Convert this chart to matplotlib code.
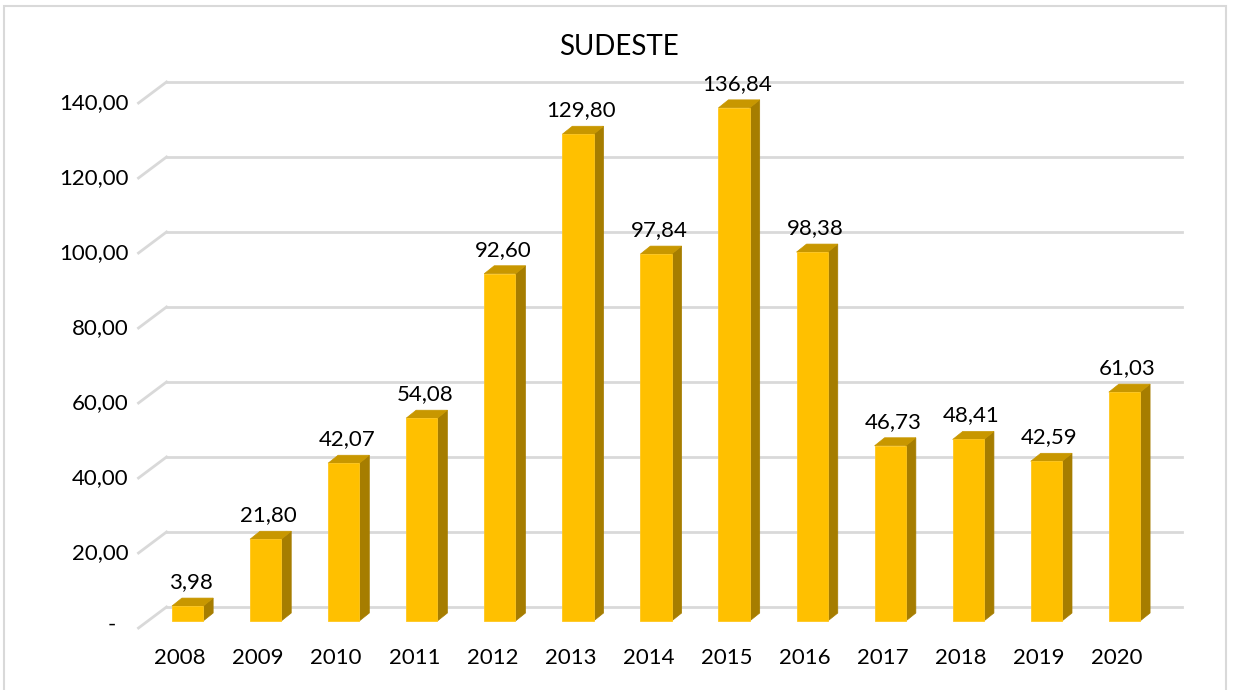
import matplotlib
matplotlib.use("Agg")
import matplotlib.pyplot as plt
from matplotlib.transforms import ScaledTranslation
from matplotlib.patches import Polygon, Rectangle
from matplotlib.lines import Line2D

years = ["2008", "2009", "2010", "2011", "2012", "2013", "2014",
         "2015", "2016", "2017", "2018", "2019", "2020"]
values = [3.98, 21.80, 42.07, 54.08, 92.60, 129.80, 97.84,
          136.84, 98.38, 46.73, 48.41, 42.59, 61.03]
ytick_values = [0, 20, 40, 60, 80, 100, 120, 140]
ytick_labels = ["-", "20,00", "40,00", "60,00", "80,00", "100,00", "120,00", "140,00"]
title = "SUDESTE"

FONT = ["Lato", "DejaVu Sans"]
plt.rcParams["font.family"] = FONT
FS = 16

W, H, DPI = 1235, 690, 100
fig = plt.figure(figsize=(W / DPI, H / DPI), dpi=DPI)

# axes in pixel layout (front plane of bars)
left_px, right_px = 148.5, 1163.5
bottom_px = 621          # from top
ymax = 150
top_px = bottom_px - 3.75 * ymax
ax = fig.add_axes([left_px / W, (H - bottom_px) / H,
                   (right_px - left_px) / W, (bottom_px - top_px) / H])
ax.set_xlim(-0.5, len(years) - 0.5)
ax.set_ylim(0, ymax)
ax.axis("off")


def off(dx, dy):
    return ax.transData + ScaledTranslation(dx / DPI, dy / DPI, fig.dpi_scale_trans)


grid_c = "#d9d9d9"
# back wall gridlines + side diagonals
BX, BY = 18, 14
FX, FY = -10, -7
x0, x1 = -0.5, len(years) - 0.5
for v in ytick_values:
    ax.add_line(Line2D([x0, x1], [v, v], transform=off(BX, BY), color=grid_c,
                       lw=2, clip_on=False, zorder=1))
    p_front = off(FX, FY).transform((x0, v))
    p_back = off(BX, BY).transform((x0, v))
    fig.add_artist(Line2D([p_front[0] / fig.bbox.width, p_back[0] / fig.bbox.width],
                          [p_front[1] / fig.bbox.height, p_back[1] / fig.bbox.height],
                          transform=fig.transFigure, color=grid_c, lw=2, zorder=1))

# bars with 3D effect
bw = 0.40
dx, dy = 10, 8
front_c = "#FFC000"
top_c = "#C89700"
side_c = "#A67D00"
bars = ax.bar(range(len(years)), values, width=bw, color=front_c,
              edgecolor="#FFC71E", linewidth=0.6, zorder=3, clip_on=False)
to_disp = ax.transData
inv = ax.transData.inverted()
for i, v in enumerate(values):
    xl, xr = i - bw / 2, i + bw / 2
    bl = to_disp.transform((xl, 0)); br = to_disp.transform((xr, 0))
    tl = to_disp.transform((xl, v)); tr = to_disp.transform((xr, v))
    side = [br, tr, (tr[0] + dx, tr[1] + dy), (br[0] + dx, br[1] + dy)]
    top = [tl, tr, (tr[0] + dx, tr[1] + dy), (tl[0] + dx, tl[1] + dy)]
    for pts, c in ((side, side_c), (top, top_c)):
        dpts = [inv.transform(p) for p in pts]
        ax.add_patch(Polygon(dpts, closed=True, facecolor=c, edgecolor=c,
                             lw=0.5, zorder=2.5, clip_on=False))
    lbl = f"{v:.2f}".replace(".", ",")
    ax.text(i, v, lbl, transform=off(3, 24), ha="center", va="center",
            fontsize=FS, color="#000000", zorder=5)

# category labels
for i, y in enumerate(years):
    ax.text(i, 0, y, transform=off(-7.5, -37), ha="center", va="center",
            fontsize=FS, color="#000000")

# y tick labels
for v, lab in zip(ytick_values, ytick_labels):
    if lab == "-":
        ax.text(-0.5, v, lab, transform=off(-37, -4), ha="center", va="center",
                fontsize=FS, color="#000000")
    else:
        ax.text(-0.5, v, lab, transform=off(-20, -7), ha="right", va="center",
                fontsize=FS, color="#000000")

# title
fig.text(618.5 / W, 1 - 47 / H, title, ha="center", va="center",
         fontsize=20, color="#000000")

# outer chart border
fig.add_artist(Rectangle((3.5 / W, -0.05), (1226 - 3.5) / W, 1.05 - 5.5 / H,
                         transform=fig.transFigure, fill=False,
                         edgecolor="#d9d9d9", lw=1.5))

fig.savefig("out.png", dpi=DPI)
